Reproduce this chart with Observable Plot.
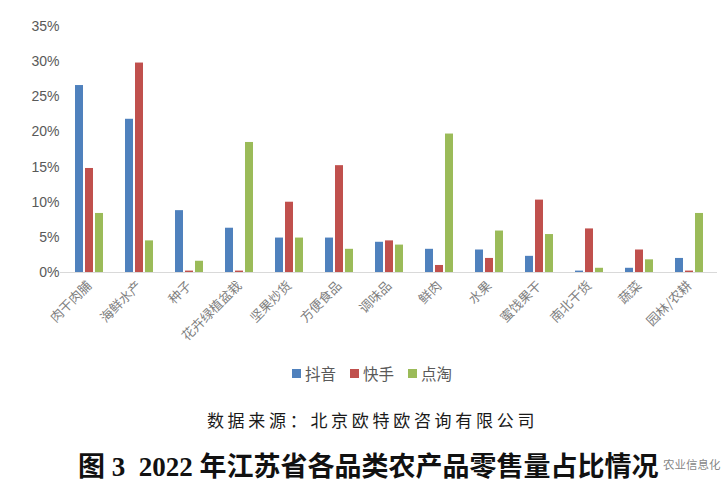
<!DOCTYPE html>
<html>
<head>
<meta charset="utf-8">
<script src="https://cdn.jsdelivr.net/npm/d3@7"></script>
<script src="https://cdn.jsdelivr.net/npm/@observablehq/plot@0.6"></script>
<style>
  html, body { margin: 0; padding: 0; background: #fff; }
  #wrap { position: relative; width: 725px; height: 497px; overflow: hidden; background: #fff; }
  #chart { position: absolute; left: 0; top: 0; }
  #chart svg { font-family: "Liberation Sans", Arial, sans-serif; background: #fff; }
  #chart g[aria-label^="y-axis"] text { font-size: 14px; fill: #595959; font-family: "Liberation Sans", Arial, sans-serif; }
  #chart g[aria-label^="fx-axis"] text { font-size: 13px; fill: #7f7f7f; font-family: "Noto Sans CJK SC", sans-serif; }
  #legend { position: absolute; top: 362px; left: 292px; display: flex; align-items: center; font-family: "Noto Sans CJK SC", sans-serif; font-size: 15.5px; color: #595959; line-height: 22px; }
  #legend .item { display: flex; align-items: center; margin-right: 14px; }
  #legend .sw { width: 9px; height: 9px; margin-right: 4px; }
  #caption { position: absolute; top: 407px; left: 0; width: 725px; text-align: center; padding-left: 20px; box-sizing: border-box; font-family: "Liberation Serif", "Noto Sans CJK SC", serif; font-size: 17px; letter-spacing: 3.7px; color: #1a1a1a; }
  #title { position: absolute; top: 445px; left: 78px; white-space: pre; font-family: "Liberation Serif", "Noto Sans CJK SC", serif; font-weight: bold; font-size: 27px; color: #111; }
  #mark { position: absolute; top: 456px; left: 663px; font-family: "Noto Sans CJK SC", sans-serif; font-size: 11.5px; color: rgba(110,110,110,0.85); white-space: nowrap; }
</style>
</head>
<body>
<div id="wrap">
  <div id="chart"></div>
  <div id="legend"></div>
  <div id="caption"></div>
  <div id="title"></div>
  <div id="mark"></div>
</div>
<script>
const categories = ["肉干肉脯", "海鲜水产", "种子", "花卉绿植盆栽", "坚果炒货", "方便食品", "调味品", "鲜肉", "水果", "蜜饯果干", "南北干货", "蔬菜", "园林/农耕"];
const platforms = ["抖音", "快手", "点淘"];
const douyin   = [26.6, 21.8, 8.8, 6.3, 4.9, 4.9, 4.3, 3.3, 3.2, 2.3, 0.2, 0.6, 2.0];
const kuaishou = [14.8, 29.8, 0.2, 0.2, 10.0, 15.2, 4.5, 1.0, 2.0, 10.3, 6.2, 3.2, 0.2];
const diantao  = [8.4, 4.5, 1.6, 18.5, 4.9, 3.3, 3.9, 19.7, 5.9, 5.4, 0.6, 1.8, 8.4];
const colors = ["#4F81BD", "#C0504D", "#9BBB59"];
const yTicks = [0, 5, 10, 15, 20, 25, 30, 35];
const captionText = "数据来源：北京欧特欧咨询有限公司";
const titleText = "图 3  2022 年江苏省各品类农产品零售量占比情况";
const watermarkText = "农业信息化";

const series = [douyin, kuaishou, diantao];
const data = [];
categories.forEach((c, i) => {
  platforms.forEach((p, j) => data.push({cat: c, platform: p, value: series[j][i]}));
});

const W = 725, H = 355, mL = 60, mR = 8, mT = 26, mB = 83;
const chart = Plot.plot({
  width: W, height: H,
  marginTop: mT, marginBottom: mB, marginLeft: mL, marginRight: mR,
  style: {background: "#fff"},
  fx: {domain: categories, paddingInner: 0.4, paddingOuter: 0.2, axis: "bottom", tickRotate: -45, tickSize: 0, tickPadding: 11, label: null},
  x: {domain: platforms, axis: null, paddingInner: 0.2, paddingOuter: 0},
  y: {domain: [0, 35], ticks: yTicks, tickFormat: d => d + "%", tickSize: 0, tickPadding: 15, label: null},
  color: {domain: platforms, range: colors},
  marks: [
    Plot.barY(data, {fx: "cat", x: "platform", y: "value", fill: "platform"})
  ]
});
document.getElementById("chart").appendChild(chart);

// continuous baseline across all facets, positioned with the y scale
const y0 = chart.scale("y").apply(0);
d3.select(chart).append("line")
  .attr("x1", mL).attr("x2", W - mR)
  .attr("y1", y0 + 0.5).attr("y2", y0 + 0.5)
  .attr("stroke", "#D9D9D9").attr("stroke-width", 1.2);

const legend = d3.select("#legend");
platforms.forEach((p, i) => {
  const it = legend.append("div").attr("class", "item");
  it.append("div").attr("class", "sw").style("background", colors[i]);
  it.append("span").text(p);
});
document.getElementById("caption").textContent = captionText;
document.getElementById("title").textContent = titleText;
document.getElementById("mark").textContent = watermarkText;
</script>
</body>
</html>
